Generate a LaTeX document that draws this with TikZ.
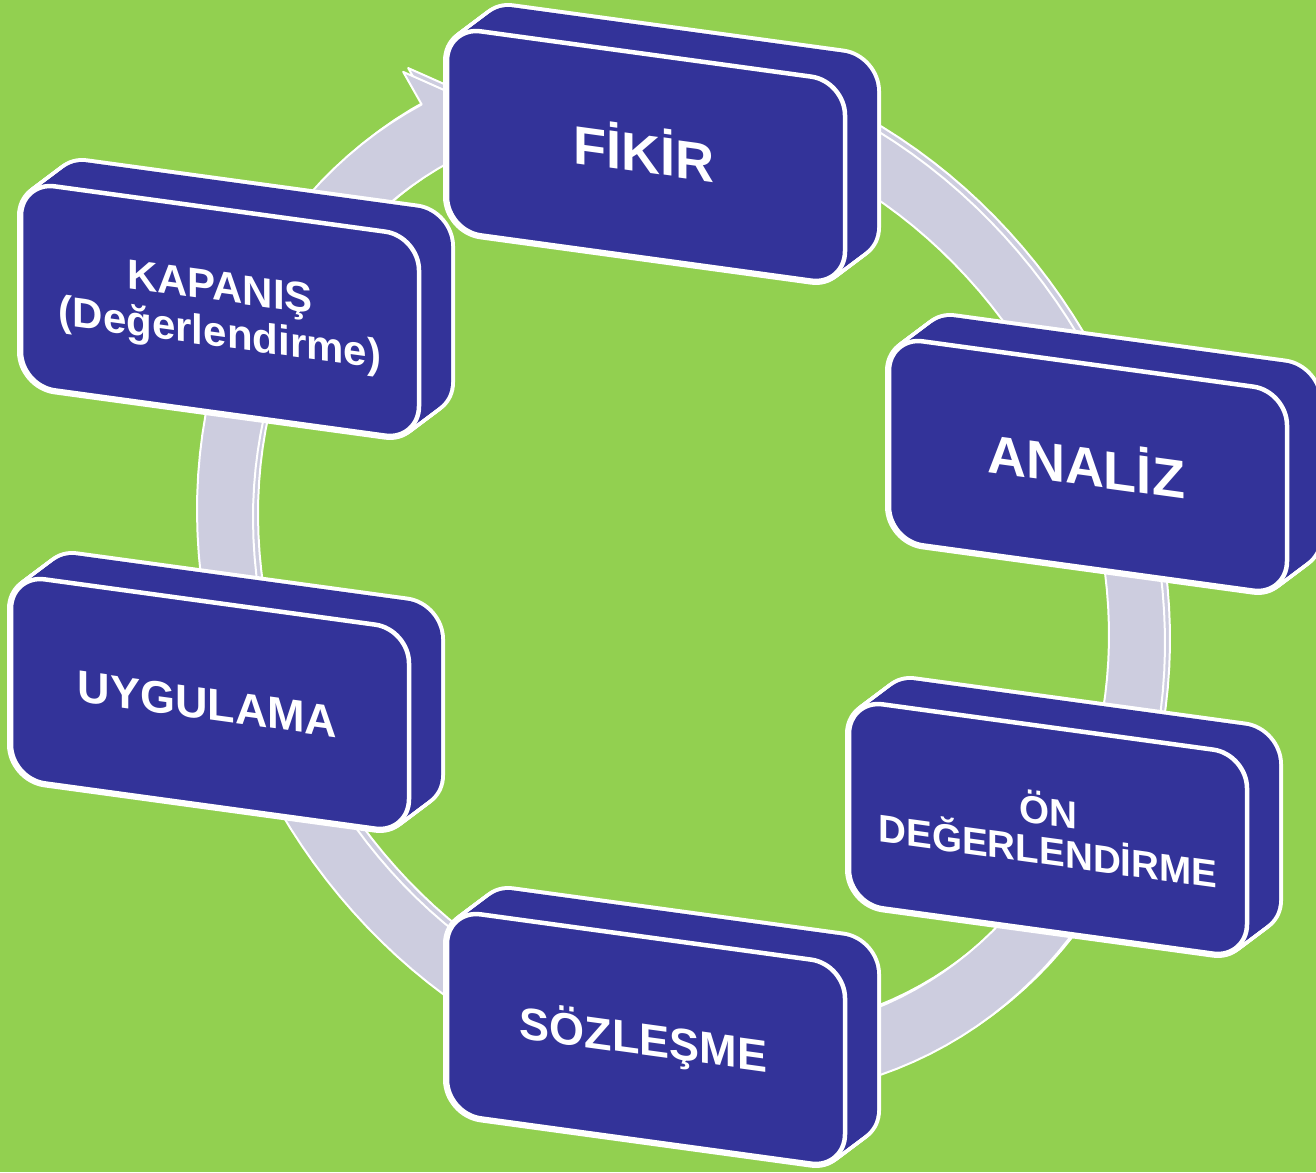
\documentclass[tikz,border=0pt]{standalone}
\usepackage{fontspec}
\setmainfont{Liberation Sans}
\definecolor{bg}{HTML}{92D050}
\definecolor{boxblue}{HTML}{333399}
\definecolor{ringgray}{HTML}{CDCDDF}
\tikzset{
  lbl/.style={text=white, anchor=base, inner sep=0pt},
  ringshape/.style={fill=ringgray, draw=white, line width=2pt, line join=round},
  silhouette/.style={draw=white, line width=8pt, rounded corners=34pt},
  bodyfill/.style={fill=boxblue, rounded corners=34pt},
  frontface/.style={draw=white, fill=boxblue, line width=4.5pt, rounded corners=34pt}
}
\newcommand{\cycbox}[3]{%
  \begin{scope}[shift={(#1,#2)}, yslant=-0.137, transform shape]
    \foreach \k in {0,...,16} \draw[silhouette] ({-199+2*\k},{-102-1.775*\k}) rectangle ++(398,204);
    \foreach \k in {0,...,16} \fill[bodyfill] ({-199+2*\k},{-102-1.775*\k}) rectangle ++(398,204);
    \draw[frontface] (-199,-102) rectangle ++(398,204);
    #3
  \end{scope}}
\begin{document}
\begin{tikzpicture}[x=1pt,y=-1pt]
\useasboundingbox (0,0) rectangle (1316,1172);
\fill[bg] (0,0) rectangle (1316,1172);
\clip (0,0) rectangle (1316,1172);
% circular arrow
\begin{scope}[shift={(681,576.5)}, yslant=-0.137]
\foreach \dx/\dy in {5/-4.5,0/0} {
  \draw[ringshape, shift={(\dx,\dy)}] plot[domain=265:597.6, samples=150] ({484*cos(\x)},{517*sin(\x)})
    -- ({518.5*cos(597.6)},{552.6*sin(597.6)})
    -- ({456*cos(605)},{486*sin(605)})
    -- ({434.6*cos(597.6)},{463.2*sin(597.6)})
    -- plot[domain=597.6:265, samples=150] ({428*cos(\x)},{455*sin(\x)}) -- cycle;
}
\end{scope}
% boxes
\cycbox{646}{156}{\node[lbl, font={\fontsize{54}{54}\selectfont\bfseries}] (fikir) at (-2,17) {FİKİR};}
\cycbox{1088}{466}{\node[lbl, font={\fontsize{54}{54}\selectfont\bfseries}] (analiz) at (-2,20) {ANALİZ};}
\cycbox{1048}{829}{\node[lbl, font={\fontsize{38.6}{38.6}\selectfont\bfseries}] (on1) at (0,-4) {ÖN};
  \node[lbl, font={\fontsize{38.6}{38.6}\selectfont\bfseries}] (on2) at (0,36) {DEĞERLENDİRME};}
\cycbox{646}{1039}{\node[lbl, font={\fontsize{45}{45}\selectfont\bfseries}] (sozlesme) at (-2.5,16.5) {SÖZLEŞME};}
\cycbox{210}{704}{\node[lbl, font={\fontsize{45}{45}\selectfont\bfseries}] (uygulama) at (-2.5,16) {UYGULAMA};}
\cycbox{220}{311}{\node[lbl, font={\fontsize{42}{42}\selectfont\bfseries}] (kap1) at (0,-10) {KAPANIŞ};
  \node[lbl, font={\fontsize{42}{42}\selectfont\bfseries}] (kap2) at (0,36) {(Değerlendirme)};}
\end{tikzpicture}
\end{document}
